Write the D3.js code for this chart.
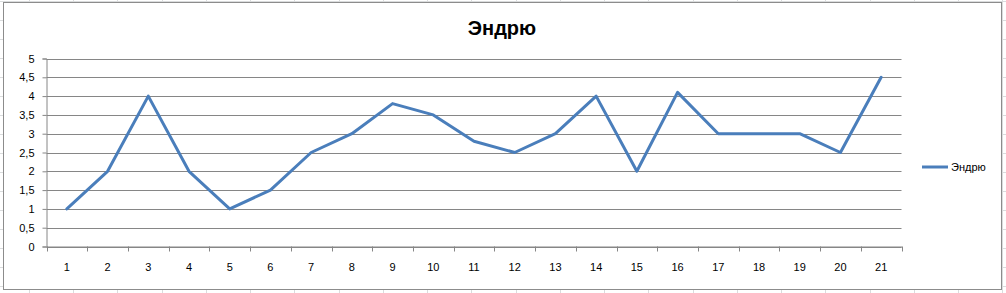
<!DOCTYPE html>
<html><head><meta charset="utf-8">
<script src="https://cdn.jsdelivr.net/npm/d3@7/dist/d3.min.js"></script>
<style>body{margin:0;background:#fff}svg{display:block}</style>
</head><body>
<svg id="c" width="1006" height="293"></svg>
<script>
const categories = ["1","2","3","4","5","6","7","8","9","10","11","12","13","14","15","16","17","18","19","20","21"];
const values = [1,2,4,2,1,1.5,2.5,3,3.8,3.5,2.8,2.5,3,4,2,4.1,3,3,3,2.5,4.5];
const yTicks = [0,0.5,1,1.5,2,2.5,3,3.5,4,4.5,5];
const seriesName = "Эндрю";
const title = "Эндрю";

const svg = d3.select("#c");
const W = 1006, H = 293;
const font = "'Liberation Sans', Arial, sans-serif";

// spreadsheet cell lines behind the chart object
const sheet = svg.append("g").attr("stroke","#dadcdd").attr("stroke-width",1);
sheet.selectAll("line.v").data(d3.range(-1, 23)).join("line")
  .attr("x1",k=>Math.round(73+44.25*k)+0.5).attr("x2",k=>Math.round(73+44.25*k)+0.5)
  .attr("y1",0).attr("y2",H);
sheet.selectAll("line.h").data(d3.range(-3, 13)).join("line")
  .attr("y1",k=>Math.round(58+19*k)+0.5).attr("y2",k=>Math.round(58+19*k)+0.5)
  .attr("x1",0).attr("x2",W);

svg.append("rect").attr("x",3.5).attr("y",2.5).attr("width",998).attr("height",287)
  .attr("fill","#fff").attr("stroke","#8c8c8c").attr("stroke-width",1);

const L = 46.5, R = 901.5, T = 58.5, B = 246.5;
const x = d3.scaleBand().domain(categories).range([L, R]);
const y = d3.scaleLinear().domain([0,5]).range([B, T]);

// gridlines
svg.append("g").selectAll("line").data(yTicks).join("line")
  .attr("x1", L).attr("x2", R)
  .attr("y1", d=>Math.round(y(d))+0.5).attr("y2", d=>Math.round(y(d))+0.5)
  .attr("stroke","#868686").attr("stroke-width",1);

// y axis
const ya = svg.append("g").attr("transform",`translate(${L},0)`)
  .call(d3.axisLeft(y).tickValues(yTicks).tickSize(4).tickPadding(8)
    .tickFormat(d=>String(d).replace(".",",")));
ya.select(".domain").attr("stroke","#868686");
ya.selectAll(".tick line").attr("stroke","#868686");
ya.selectAll("text").attr("font-family",font).attr("font-size","11px").attr("fill","#000");

// x axis
const xa = svg.append("g").attr("transform",`translate(0,${B})`)
  .call(d3.axisBottom(x).tickSize(0).tickPadding(17));
xa.select(".domain").attr("stroke","#868686");
xa.selectAll("text").attr("font-family",font).attr("font-size","11px").attr("fill","#000");
const bounds = categories.map(c=>x(c)).concat([x(categories[categories.length-1])+x.bandwidth()]);
svg.append("g").selectAll("line").data(bounds).join("line")
  .attr("x1",d=>Math.round(d)+0.5).attr("x2",d=>Math.round(d)+0.5)
  .attr("y1",B).attr("y2",B+5).attr("stroke","#868686");

// line
const line = d3.line().x((d,i)=>x(categories[i])+x.bandwidth()/2).y(d=>y(d));
svg.append("path").datum(values).attr("d",line)
  .attr("fill","none").attr("stroke","#4A7EBB").attr("stroke-width",3)
  .attr("stroke-linejoin","round").attr("stroke-linecap","round");

// title
svg.append("text").attr("x",502).attr("y",35).attr("text-anchor","middle")
  .attr("font-family",font).attr("font-weight","bold").attr("font-size","20px").text(title);

// legend
svg.append("line").attr("x1",922).attr("x2",948).attr("y1",167).attr("y2",167)
  .attr("stroke","#4A7EBB").attr("stroke-width",3);
svg.append("text").attr("x",951).attr("y",171).attr("font-family",font)
  .attr("font-size","11px").text(seriesName);
</script>
</body></html>
